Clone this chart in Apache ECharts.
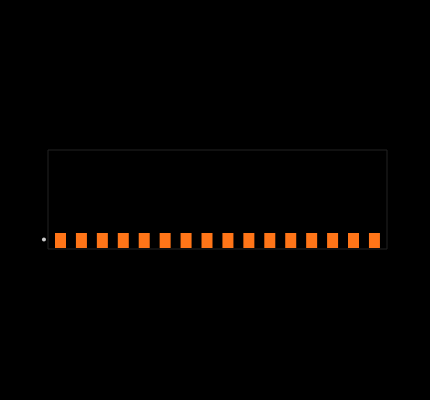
<!DOCTYPE html>
<html><head><meta charset="utf-8">
<style>html,body{margin:0;padding:0;background:#000}#c{width:430px;height:400px}</style>
<script src="https://cdn.jsdelivr.net/npm/echarts@6/dist/echarts.min.js"></script>
</head><body><div id="c"></div>
<script>
const positions = [1,2,3,4,5,6,7,8,9,10,11,12,13,14,15,16];
const barValues = [15,15,15,15,15,15,15,15,15,15,15,15,15,15,15,15];
const dotPoint = [[0.21,8.5]];
const chart = echarts.init(document.getElementById('c'), null, {renderer:'canvas'});
chart.setOption({
  animation:false,
  backgroundColor:'#000000',
  grid:{show:true,left:48,top:150,width:339,height:99,backgroundColor:'transparent',borderColor:'#222222',borderWidth:1},
  xAxis:{type:'value',min:0.403,max:16.6,show:false},
  yAxis:{type:'value',min:-1,max:98,show:false},
  series:[
    {type:'bar',barWidth:11,itemStyle:{color:'#ff7518'},data:positions.map((p,i)=>[p,barValues[i]])},
    {type:'scatter',clip:false,symbolSize:4,itemStyle:{color:'#ffffff'},data:dotPoint}
  ]
});
</script></body></html>
